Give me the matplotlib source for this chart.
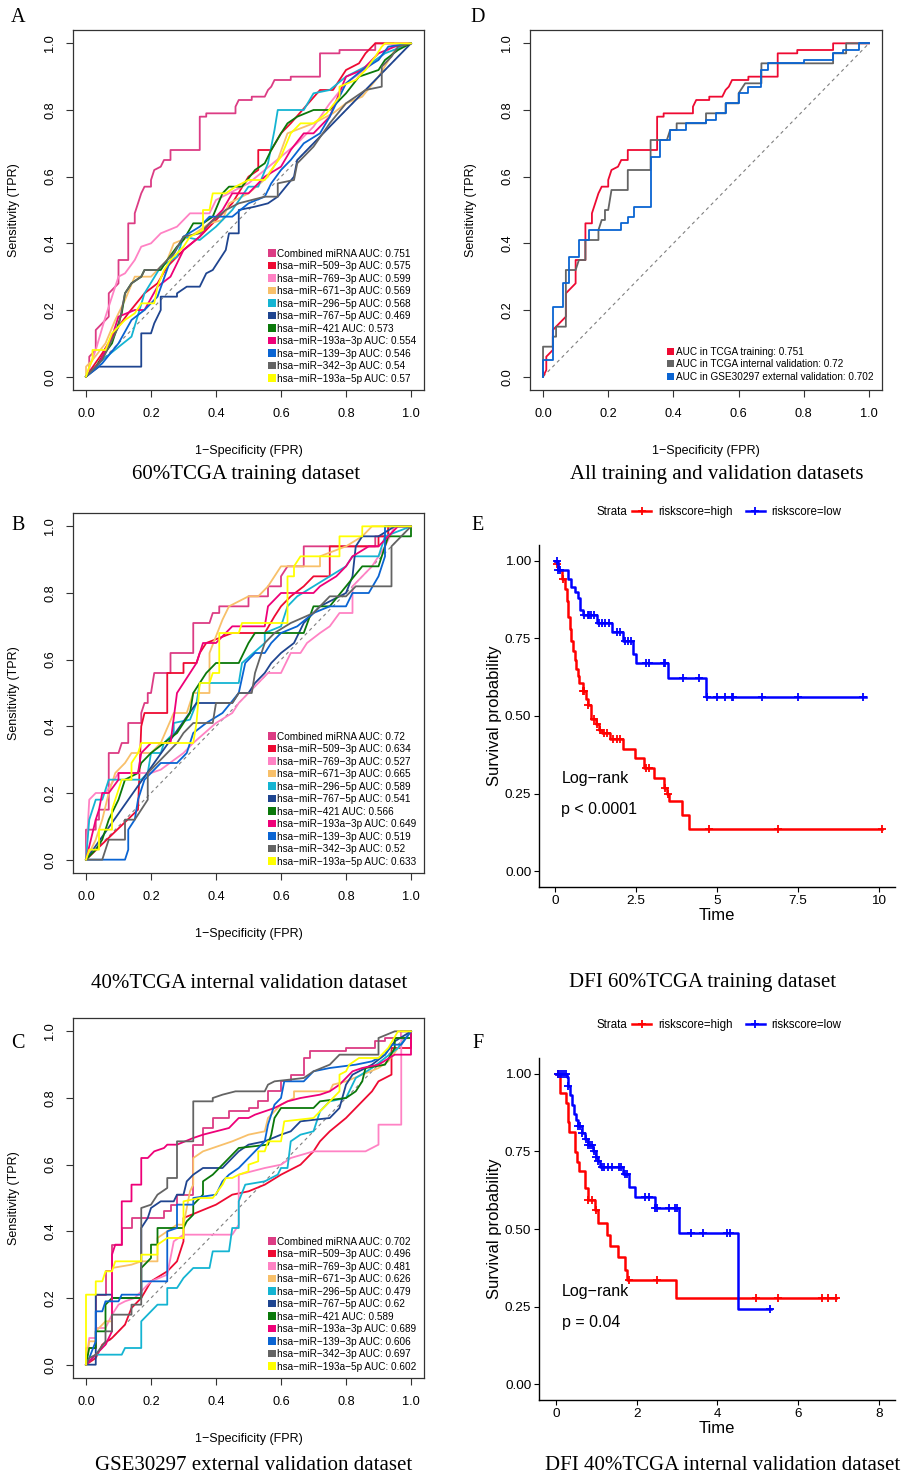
import numpy as np
import matplotlib
matplotlib.use("Agg")
import matplotlib.pyplot as plt
from matplotlib.patches import Patch
from matplotlib.lines import Line2D

M = "\u2212"

# ---------------- ROC data (fpr, tpr vertices) ----------------
roc_colors = ["#DC3C84", "#EE0A32", "#FF82C4", "#F8C06A", "#14B4D2", "#1F4590",
              "#0A780A", "#EE0078", "#0A64D2", "#646464", "#FFFF00"]
mirna_names = ["Combined miRNA", "hsa" + M + "miR" + M + "509" + M + "3p", "hsa" + M + "miR" + M + "769" + M + "3p",
               "hsa" + M + "miR" + M + "671" + M + "3p", "hsa" + M + "miR" + M + "296" + M + "5p",
               "hsa" + M + "miR" + M + "767" + M + "5p", "hsa" + M + "miR" + M + "421",
               "hsa" + M + "miR" + M + "193a" + M + "3p", "hsa" + M + "miR" + M + "139" + M + "3p",
               "hsa" + M + "miR" + M + "342" + M + "3p", "hsa" + M + "miR" + M + "193a" + M + "5p"]
auc_a = ["0.751", "0.575", "0.599", "0.569", "0.568", "0.469", "0.573", "0.554", "0.546", "0.54", "0.57"]
auc_b = ["0.72", "0.634", "0.527", "0.665", "0.589", "0.541", "0.566", "0.649", "0.519", "0.52", "0.633"]
auc_c = ["0.702", "0.496", "0.481", "0.626", "0.479", "0.62", "0.589", "0.689", "0.606", "0.697", "0.602"]

# combined-score curves (also used in panel D)
roc_train = [(0, 0), (0.01, 0.02), (0.01, 0.06), (0.03, 0.08), (0.03, 0.14), (0.05, 0.16), (0.06, 0.17), (0.07, 0.18),
             (0.07, 0.25), (0.09, 0.27), (0.1, 0.28), (0.1, 0.35), (0.13, 0.35), (0.13, 0.46), (0.15, 0.46),
             (0.15, 0.49), (0.16, 0.52), (0.17, 0.55), (0.18, 0.57), (0.2, 0.57), (0.2, 0.59), (0.21, 0.62),
             (0.23, 0.63), (0.24, 0.65), (0.26, 0.65), (0.26, 0.68), (0.35, 0.68), (0.35, 0.78), (0.37, 0.78),
             (0.37, 0.79), (0.46, 0.79), (0.46, 0.81), (0.47, 0.83), (0.51, 0.83), (0.51, 0.84), (0.55, 0.84),
             (0.56, 0.86), (0.57, 0.87), (0.58, 0.89), (0.63, 0.89), (0.63, 0.9), (0.72, 0.9), (0.72, 0.97),
             (0.78, 0.97), (0.78, 0.98), (0.89, 0.98), (0.89, 1.0), (1, 1)]
roc_internal = [(0, 0), (0, 0.09), (0.03, 0.09), (0.03, 0.12), (0.04, 0.12), (0.04, 0.15), (0.07, 0.15), (0.07, 0.32),
                (0.1, 0.32), (0.11, 0.35), (0.13, 0.35), (0.13, 0.41), (0.17, 0.41), (0.17, 0.44), (0.18, 0.47),
                (0.19, 0.47), (0.19, 0.5), (0.2, 0.5), (0.21, 0.56), (0.26, 0.56), (0.26, 0.62), (0.33, 0.62),
                (0.33, 0.71), (0.38, 0.71), (0.39, 0.74), (0.41, 0.74), (0.41, 0.76), (0.5, 0.76), (0.5, 0.79),
                (0.56, 0.79), (0.56, 0.82), (0.6, 0.82), (0.6, 0.85), (0.62, 0.88), (0.67, 0.88), (0.67, 0.94),
                (0.89, 0.94), (0.89, 0.97), (0.93, 0.97), (0.93, 1.0), (1, 1)]
roc_external = [(0, 0), (0, 0.05), (0.03, 0.05), (0.03, 0.21), (0.06, 0.21), (0.06, 0.28), (0.08, 0.28), (0.08, 0.36),
                (0.11, 0.36), (0.11, 0.41), (0.14, 0.41), (0.14, 0.44), (0.24, 0.44), (0.24, 0.46), (0.26, 0.46),
                (0.26, 0.48), (0.28, 0.48), (0.28, 0.51), (0.33, 0.51), (0.33, 0.66), (0.36, 0.66), (0.36, 0.71),
                (0.39, 0.71), (0.39, 0.74), (0.44, 0.74), (0.44, 0.76), (0.5, 0.76), (0.5, 0.77), (0.53, 0.77),
                (0.53, 0.79), (0.56, 0.79), (0.56, 0.82), (0.6, 0.82), (0.6, 0.85), (0.63, 0.85), (0.63, 0.87),
                (0.67, 0.87), (0.67, 0.92), (0.69, 0.92), (0.69, 0.94), (0.8, 0.94), (0.8, 0.95), (0.89, 0.95),
                (0.89, 0.97), (0.92, 0.97), (0.92, 0.98), (0.97, 0.98), (0.97, 1.0), (1, 1)]

# panel A single miRNAs
a_509 = [(0, 0), (0.05, 0.07), (0.1, 0.15), (0.13, 0.19), (0.18, 0.25), (0.22, 0.28), (0.25, 0.33), (0.3, 0.38),
         (0.35, 0.42), (0.4, 0.47), (0.45, 0.52), (0.5, 0.6), (0.53, 0.62), (0.53, 0.68), (0.57, 0.68), (0.6, 0.73),
         (0.63, 0.76), (0.72, 0.86), (0.76, 0.86), (0.8, 0.92), (0.84, 0.94), (0.86, 0.97), (0.89, 1.0), (1, 1)]
a_769 = [(0, 0), (0.03, 0.08), (0.06, 0.18), (0.1, 0.3), (0.12, 0.31), (0.15, 0.35), (0.17, 0.39), (0.2, 0.4),
         (0.23, 0.43), (0.28, 0.45), (0.32, 0.49), (0.38, 0.49), (0.4, 0.53), (0.44, 0.55), (0.5, 0.58),
         (0.55, 0.62), (0.6, 0.66), (0.65, 0.7), (0.7, 0.75), (0.75, 0.82), (0.8, 0.88), (0.87, 0.93),
         (0.93, 0.98), (0.95, 1.0), (1, 1)]
a_671 = [(0, 0), (0, 0.03), (0.02, 0.05), (0.06, 0.1), (0.09, 0.17), (0.12, 0.23), (0.15, 0.3), (0.2, 0.3),
         (0.25, 0.35), (0.27, 0.4), (0.32, 0.42), (0.38, 0.46), (0.42, 0.47), (0.44, 0.52), (0.5, 0.55),
         (0.56, 0.6), (0.59, 0.65), (0.62, 0.73), (0.7, 0.76), (0.76, 0.79), (0.8, 0.82), (0.85, 0.84),
         (0.9, 0.9), (0.95, 0.98), (1, 1)]
a_296 = [(0, 0), (0.05, 0.05), (0.14, 0.12), (0.18, 0.25), (0.23, 0.33), (0.28, 0.36), (0.3, 0.42), (0.35, 0.41),
         (0.4, 0.45), (0.42, 0.47), (0.45, 0.5), (0.5, 0.57), (0.53, 0.57), (0.56, 0.64), (0.58, 0.74),
         (0.59, 0.8), (0.67, 0.8), (0.7, 0.85), (0.75, 0.86), (0.8, 0.9), (0.86, 0.93), (0.92, 0.97), (1, 1)]
a_767 = [(0, 0), (0.04, 0.03), (0.17, 0.03), (0.17, 0.13), (0.2, 0.13), (0.21, 0.16), (0.23, 0.2), (0.23, 0.24),
         (0.28, 0.24), (0.28, 0.25), (0.31, 0.27), (0.35, 0.27), (0.37, 0.31), (0.39, 0.32), (0.41, 0.35),
         (0.43, 0.38), (0.44, 0.43), (0.47, 0.43), (0.47, 0.5), (0.52, 0.51), (0.56, 0.52), (0.59, 0.54),
         (0.64, 0.6), (0.65, 0.65), (1, 1)]
a_421 = [(0, 0), (0.03, 0.03), (0.05, 0.06), (0.08, 0.1), (0.11, 0.19), (0.12, 0.25), (0.14, 0.28), (0.17, 0.3),
         (0.18, 0.32), (0.23, 0.32), (0.25, 0.35), (0.28, 0.39), (0.3, 0.41), (0.33, 0.46), (0.36, 0.46),
         (0.39, 0.48), (0.42, 0.55), (0.44, 0.57), (0.48, 0.57), (0.52, 0.62), (0.55, 0.64), (0.57, 0.68),
         (0.6, 0.73), (0.62, 0.76), (0.65, 0.78), (0.7, 0.8), (0.75, 0.8), (0.8, 0.85), (0.84, 0.9), (0.9, 0.92),
         (0.92, 0.95), (0.96, 0.98), (1, 1)]
a_193a3 = [(0, 0), (0.04, 0.04), (0.08, 0.12), (0.1, 0.18), (0.15, 0.2), (0.18, 0.2), (0.22, 0.27), (0.26, 0.3),
           (0.3, 0.38), (0.35, 0.42), (0.38, 0.46), (0.42, 0.5), (0.45, 0.55), (0.5, 0.55), (0.55, 0.6),
           (0.6, 0.63), (0.63, 0.68), (0.67, 0.73), (0.7, 0.73), (0.75, 0.78), (0.8, 0.9), (0.85, 0.92),
           (0.9, 0.97), (0.95, 0.99), (1, 1)]
a_139 = [(0, 0), (0.05, 0.04), (0.1, 0.1), (0.14, 0.17), (0.18, 0.2), (0.22, 0.24), (0.26, 0.35), (0.3, 0.42),
         (0.35, 0.45), (0.38, 0.48), (0.45, 0.48), (0.5, 0.52), (0.55, 0.54), (0.57, 0.58), (0.6, 0.62),
         (0.63, 0.65), (0.67, 0.7), (0.72, 0.73), (0.75, 0.78), (0.8, 0.88), (0.85, 0.92), (0.9, 0.95),
         (0.93, 0.99), (1, 1)]
a_342 = [(0, 0), (0.05, 0.05), (0.1, 0.15), (0.12, 0.25), (0.14, 0.28), (0.17, 0.3), (0.18, 0.32), (0.22, 0.32),
         (0.27, 0.37), (0.3, 0.42), (0.35, 0.43), (0.38, 0.46), (0.43, 0.5), (0.47, 0.52), (0.51, 0.53),
         (0.55, 0.54), (0.59, 0.54), (0.59, 0.58), (0.64, 0.59), (0.65, 0.64), (0.7, 0.69), (0.75, 0.76),
         (0.8, 0.82), (0.86, 0.86), (0.91, 0.87), (0.91, 0.93), (0.94, 0.96), (0.96, 0.99), (1, 1)]
a_193a5 = [(0, 0), (0.01, 0.03), (0.02, 0.05), (0.02, 0.08), (0.06, 0.08), (0.08, 0.13), (0.12, 0.17), (0.15, 0.19),
           (0.17, 0.22), (0.21, 0.22), (0.22, 0.27), (0.24, 0.32), (0.26, 0.35), (0.3, 0.39), (0.32, 0.42),
           (0.36, 0.44), (0.36, 0.5), (0.38, 0.5), (0.39, 0.55), (0.43, 0.55), (0.46, 0.57), (0.5, 0.59),
           (0.55, 0.59), (0.57, 0.62), (0.6, 0.66), (0.63, 0.73), (0.66, 0.76), (0.7, 0.76), (0.74, 0.79),
           (0.78, 0.84), (0.78, 0.87), (0.83, 0.89), (0.86, 0.92), (0.89, 0.96), (0.91, 0.99), (0.92, 1), (1, 1)]

# panel B single miRNAs
b_509 = [(0, 0), (0.16, 0.15), (0.17, 0.4), (0.18, 0.44), (0.25, 0.44), (0.25, 0.56), (0.3, 0.56), (0.3, 0.59),
         (0.34, 0.59), (0.35, 0.62), (0.37, 0.65), (0.45, 0.68), (0.55, 0.68), (0.58, 0.73), (0.6, 0.76),
         (0.63, 0.79), (0.67, 0.82), (0.7, 0.85), (0.75, 0.85), (0.75, 0.94), (0.9, 0.94), (0.9, 0.97),
         (0.93, 0.97), (0.93, 1), (1, 1)]
b_769 = [(0, 0), (0.01, 0.18), (0.03, 0.2), (0.06, 0.2), (0.08, 0.23), (0.1, 0.26), (0.2, 0.26), (0.23, 0.27),
         (0.3, 0.32), (0.33, 0.35), (0.4, 0.41), (0.45, 0.44), (0.47, 0.47), (0.5, 0.5), (0.53, 0.53),
         (0.56, 0.56), (0.6, 0.56), (0.63, 0.62), (0.66, 0.62), (0.68, 0.65), (0.72, 0.68), (0.75, 0.7),
         (0.78, 0.74), (0.82, 0.74), (0.82, 0.82), (0.85, 0.85), (0.88, 0.88), (0.92, 0.94), (0.95, 1.0), (1, 1)]
b_671 = [(0, 0), (0.03, 0.06), (0.05, 0.12), (0.07, 0.2), (0.09, 0.26), (0.12, 0.29), (0.14, 0.32), (0.2, 0.32),
         (0.23, 0.35), (0.27, 0.44), (0.31, 0.44), (0.33, 0.5), (0.38, 0.5), (0.38, 0.62), (0.4, 0.67),
         (0.42, 0.72), (0.44, 0.76), (0.5, 0.79), (0.53, 0.79), (0.56, 0.82), (0.58, 0.85), (0.6, 0.88),
         (0.72, 0.88), (0.72, 0.91), (0.8, 0.94), (0.85, 0.97), (0.88, 1.0), (1, 1)]
b_296 = [(0, 0), (0.01, 0.12), (0.03, 0.18), (0.05, 0.18), (0.07, 0.24), (0.17, 0.24), (0.19, 0.26), (0.2, 0.32),
         (0.23, 0.32), (0.24, 0.35), (0.27, 0.38), (0.27, 0.41), (0.32, 0.42), (0.34, 0.47), (0.35, 0.53),
         (0.47, 0.53), (0.48, 0.59), (0.55, 0.65), (0.55, 0.68), (0.6, 0.7), (0.62, 0.76), (0.65, 0.79),
         (0.7, 0.82), (0.75, 0.85), (0.8, 0.88), (0.82, 0.91), (0.9, 0.91), (0.92, 0.97), (1, 1)]
b_767 = [(0, 0), (0.34, 0.47), (0.45, 0.47), (0.47, 0.5), (0.5, 0.5), (0.52, 0.53), (0.55, 0.56), (0.57, 0.59),
         (0.6, 0.62), (0.64, 0.65), (0.67, 0.71), (0.7, 0.74), (0.72, 0.76), (0.8, 0.8), (0.82, 0.85),
         (0.83, 0.94), (0.85, 0.97), (0.9, 0.97), (0.95, 1.0), (1, 1)]
b_421 = [(0, 0), (0.03, 0.03), (0.05, 0.06), (0.07, 0.12), (0.1, 0.18), (0.12, 0.24), (0.16, 0.26), (0.17, 0.29),
         (0.2, 0.32), (0.24, 0.35), (0.28, 0.38), (0.3, 0.41), (0.32, 0.44), (0.33, 0.5), (0.37, 0.56),
         (0.4, 0.59), (0.47, 0.59), (0.5, 0.65), (0.52, 0.68), (0.67, 0.68), (0.7, 0.76), (0.75, 0.76),
         (0.8, 0.82), (0.85, 0.88), (0.9, 0.88), (0.93, 0.97), (1, 0.97), (1, 1)]
b_193a3 = [(0, 0), (0.03, 0.12), (0.04, 0.15), (0.05, 0.2), (0.07, 0.2), (0.1, 0.24), (0.1, 0.26), (0.16, 0.26),
           (0.17, 0.32), (0.2, 0.35), (0.26, 0.35), (0.28, 0.5), (0.3, 0.53), (0.32, 0.56), (0.34, 0.59),
           (0.36, 0.65), (0.4, 0.65), (0.45, 0.7), (0.55, 0.7), (0.56, 0.76), (0.6, 0.8), (0.7, 0.8),
           (0.72, 0.82), (0.77, 0.85), (0.8, 0.88), (0.82, 0.91), (0.87, 0.94), (0.9, 0.94), (0.93, 0.97),
           (0.96, 1), (1, 1)]
b_139 = [(0, 0), (0.12, 0), (0.13, 0.03), (0.13, 0.09), (0.15, 0.12), (0.16, 0.18), (0.18, 0.24), (0.2, 0.26),
         (0.23, 0.29), (0.28, 0.29), (0.31, 0.32), (0.33, 0.38), (0.37, 0.41), (0.42, 0.44), (0.47, 0.5),
         (0.49, 0.59), (0.52, 0.62), (0.55, 0.62), (0.57, 0.65), (0.6, 0.68), (0.65, 0.7), (0.7, 0.74),
         (0.75, 0.76), (0.8, 0.76), (0.82, 0.8), (0.87, 0.8), (0.9, 0.85), (0.92, 0.91), (0.92, 1), (1, 1)]
b_342 = [(0, 0), (0.05, 0), (0.07, 0.06), (0.12, 0.06), (0.12, 0.12), (0.15, 0.12), (0.17, 0.15), (0.19, 0.18),
         (0.19, 0.26), (0.22, 0.29), (0.25, 0.32), (0.28, 0.35), (0.3, 0.38), (0.33, 0.41), (0.39, 0.41),
         (0.4, 0.47), (0.45, 0.47), (0.47, 0.5), (0.51, 0.5), (0.52, 0.56), (0.53, 0.59), (0.55, 0.65),
         (0.58, 0.68), (0.63, 0.71), (0.7, 0.74), (0.75, 0.79), (0.8, 0.79), (0.83, 0.82), (0.94, 0.82),
         (0.94, 0.94), (0.97, 0.97), (1, 1)]
b_193a5 = [(0, 0), (0.01, 0.03), (0.04, 0.03), (0.04, 0.09), (0.08, 0.09), (0.08, 0.15), (0.09, 0.18), (0.1, 0.21),
           (0.11, 0.24), (0.14, 0.24), (0.14, 0.29), (0.16, 0.32), (0.17, 0.35), (0.33, 0.35), (0.34, 0.41),
           (0.35, 0.53), (0.38, 0.53), (0.39, 0.56), (0.41, 0.56), (0.41, 0.68), (0.47, 0.68), (0.48, 0.71),
           (0.62, 0.71), (0.62, 0.85), (0.64, 0.85), (0.64, 0.88), (0.66, 0.91), (0.78, 0.91), (0.78, 0.97),
           (0.85, 0.97), (0.85, 1.0), (1, 1)]

# panel C single miRNAs
c_509 = [(0, 0), (0.03, 0.02), (0.05, 0.06), (0.08, 0.08), (0.1, 0.1), (0.12, 0.12), (0.14, 0.17), (0.17, 0.2),
         (0.2, 0.25), (0.25, 0.28), (0.28, 0.31), (0.3, 0.37), (0.3, 0.44), (0.35, 0.46), (0.4, 0.48),
         (0.45, 0.51), (0.5, 0.52), (0.55, 0.54), (0.6, 0.57), (0.66, 0.6), (0.7, 0.64), (0.72, 0.67),
         (0.75, 0.7), (0.8, 0.74), (0.85, 0.79), (0.88, 0.82), (0.9, 0.85), (0.94, 0.87), (0.94, 0.95),
         (1, 0.95), (1, 1)]
c_769 = [(0, 0), (0.01, 0.08), (0.03, 0.08), (0.03, 0.11), (0.06, 0.11), (0.08, 0.15), (0.1, 0.18), (0.12, 0.19),
         (0.15, 0.2), (0.18, 0.23), (0.2, 0.25), (0.25, 0.27), (0.27, 0.37), (0.3, 0.39), (0.45, 0.39),
         (0.47, 0.42), (0.47, 0.57), (0.55, 0.59), (0.6, 0.6), (0.63, 0.62), (0.7, 0.64), (0.86, 0.64),
         (0.9, 0.66), (0.9, 0.72), (0.97, 0.72), (0.97, 1.0), (1, 1)]
c_671 = [(0, 0), (0.01, 0.07), (0.03, 0.07), (0.03, 0.1), (0.06, 0.13), (0.08, 0.13), (0.08, 0.29), (0.14, 0.3),
         (0.17, 0.31), (0.22, 0.31), (0.22, 0.38), (0.28, 0.42), (0.3, 0.42), (0.32, 0.52), (0.33, 0.54),
         (0.33, 0.62), (0.36, 0.64), (0.42, 0.66), (0.45, 0.67), (0.5, 0.69), (0.55, 0.7), (0.56, 0.74),
         (0.6, 0.78), (0.64, 0.8), (0.64, 0.82), (0.75, 0.82), (0.76, 0.84), (0.8, 0.85), (0.9, 0.89),
         (0.93, 0.91), (0.96, 0.95), (1, 1)]
c_296 = [(0, 0), (0.03, 0.03), (0.11, 0.03), (0.12, 0.05), (0.17, 0.05), (0.17, 0.13), (0.2, 0.16), (0.22, 0.18),
         (0.25, 0.18), (0.25, 0.23), (0.28, 0.23), (0.3, 0.26), (0.33, 0.29), (0.38, 0.29), (0.39, 0.34),
         (0.44, 0.34), (0.45, 0.41), (0.47, 0.41), (0.47, 0.49), (0.49, 0.54), (0.55, 0.55), (0.59, 0.57),
         (0.6, 0.59), (0.62, 0.59), (0.63, 0.67), (0.66, 0.69), (0.7, 0.7), (0.72, 0.76), (0.75, 0.79),
         (0.8, 0.8), (0.83, 0.86), (0.88, 0.89), (0.92, 0.92), (0.96, 0.95), (1, 1)]
c_767 = [(0, 0), (0.03, 0.0), (0.03, 0.21), (0.08, 0.21), (0.08, 0.2), (0.17, 0.2), (0.17, 0.41), (0.19, 0.44),
         (0.2, 0.47), (0.23, 0.49), (0.27, 0.49), (0.28, 0.51), (0.3, 0.51), (0.31, 0.55), (0.33, 0.57),
         (0.36, 0.59), (0.42, 0.59), (0.45, 0.62), (0.47, 0.64), (0.5, 0.66), (0.55, 0.67), (0.6, 0.69),
         (0.63, 0.7), (0.66, 0.73), (0.75, 0.74), (0.78, 0.77), (0.8, 0.84), (0.82, 0.87), (0.88, 0.9),
         (0.92, 0.93), (0.95, 0.97), (1, 1)]
c_421 = [(0, 0), (0.01, 0.05), (0.03, 0.05), (0.03, 0.1), (0.06, 0.1), (0.06, 0.18), (0.08, 0.2), (0.17, 0.2),
         (0.17, 0.29), (0.2, 0.32), (0.2, 0.36), (0.22, 0.36), (0.22, 0.41), (0.3, 0.41), (0.31, 0.43),
         (0.33, 0.45), (0.33, 0.48), (0.36, 0.51), (0.36, 0.55), (0.39, 0.57), (0.42, 0.6), (0.44, 0.62),
         (0.47, 0.65), (0.56, 0.66), (0.57, 0.69), (0.58, 0.74), (0.6, 0.77), (0.7, 0.77), (0.72, 0.79),
         (0.8, 0.8), (0.83, 0.82), (0.85, 0.85), (0.86, 0.89), (0.92, 0.9), (0.95, 0.95), (0.95, 0.98),
         (1, 0.98), (1, 1)]
c_193a3 = [(0, 0), (0.03, 0.03), (0.06, 0.06), (0.08, 0.1), (0.08, 0.33), (0.09, 0.36), (0.11, 0.36), (0.11, 0.49),
           (0.14, 0.49), (0.14, 0.54), (0.17, 0.54), (0.17, 0.62), (0.19, 0.62), (0.21, 0.64), (0.24, 0.65),
           (0.25, 0.66), (0.28, 0.66), (0.33, 0.68), (0.36, 0.69), (0.4, 0.7), (0.44, 0.71), (0.47, 0.74),
           (0.5, 0.74), (0.52, 0.75), (0.58, 0.77), (0.62, 0.79), (0.66, 0.8), (0.72, 0.81), (0.75, 0.82),
           (0.78, 0.84), (0.8, 0.86), (0.82, 0.88), (0.85, 0.89), (0.9, 0.9), (0.95, 0.93), (1, 0.93), (1, 1)]
c_139 = [(0, 0), (0.01, 0.02), (0.03, 0.07), (0.03, 0.16), (0.05, 0.16), (0.06, 0.19), (0.1, 0.19), (0.11, 0.21),
         (0.17, 0.21), (0.17, 0.25), (0.25, 0.25), (0.25, 0.4), (0.28, 0.41), (0.28, 0.48), (0.33, 0.48),
         (0.33, 0.5), (0.4, 0.51), (0.42, 0.55), (0.44, 0.57), (0.47, 0.59), (0.5, 0.62), (0.55, 0.67),
         (0.56, 0.72), (0.58, 0.78), (0.6, 0.8), (0.61, 0.85), (0.67, 0.85), (0.7, 0.88), (0.75, 0.89),
         (0.83, 0.9), (0.88, 0.91), (0.92, 0.93), (0.94, 0.96), (0.97, 0.96), (1, 1)]
c_342 = [(0, 0), (0.01, 0.02), (0.03, 0.03), (0.06, 0.07), (0.06, 0.1), (0.08, 0.1), (0.08, 0.15), (0.14, 0.15),
         (0.14, 0.18), (0.17, 0.18), (0.17, 0.47), (0.2, 0.48), (0.22, 0.51), (0.25, 0.53), (0.25, 0.56),
         (0.28, 0.56), (0.28, 0.67), (0.33, 0.67), (0.33, 0.79), (0.39, 0.79), (0.39, 0.8), (0.42, 0.81),
         (0.46, 0.82), (0.55, 0.82), (0.56, 0.84), (0.58, 0.85), (0.67, 0.86), (0.7, 0.88), (0.75, 0.9),
         (0.78, 0.93), (0.9, 0.93), (0.9, 0.98), (0.95, 1.0), (1, 1)]
c_193a5 = [(0, 0), (0, 0.21), (0.03, 0.21), (0.03, 0.25), (0.05, 0.25), (0.06, 0.28), (0.08, 0.28), (0.09, 0.31),
           (0.17, 0.31), (0.17, 0.33), (0.22, 0.33), (0.22, 0.36), (0.25, 0.38), (0.3, 0.38), (0.3, 0.49),
           (0.35, 0.5), (0.39, 0.5), (0.42, 0.54), (0.43, 0.56), (0.45, 0.56), (0.47, 0.57), (0.5, 0.58),
           (0.5, 0.6), (0.53, 0.61), (0.53, 0.64), (0.55, 0.64), (0.56, 0.67), (0.6, 0.67), (0.61, 0.73),
           (0.7, 0.74), (0.72, 0.76), (0.75, 0.79), (0.78, 0.82), (0.78, 0.87), (0.8, 0.88), (0.81, 0.9),
           (0.84, 0.92), (0.9, 0.92), (0.93, 0.95), (0.96, 1.0), (1, 1)]

d_labels = ["AUC in TCGA training: 0.751", "AUC in TCGA internal validation: 0.72",
            "AUC in GSE30297 external validation: 0.702"]
d_colors = ["#EE0A32", "#646464", "#0A64D2"]

# ---------------- Kaplan-Meier data ----------------
e_high_time = [0, 0.05, 0.1, 0.2, 0.3, 0.35, 0.4, 0.45, 0.5, 0.55, 0.6, 0.65, 0.7, 0.75, 0.85, 0.95, 1.0, 1.1,
               1.25, 1.35, 1.45, 1.7, 2.09, 2.47, 2.73, 3.04, 3.37, 3.45, 3.53, 3.92, 4.14]
e_high_surv = [1.0, 0.99, 0.97, 0.94, 0.91, 0.87, 0.82, 0.78, 0.74, 0.71, 0.68, 0.65, 0.63, 0.605, 0.58, 0.555,
               0.535, 0.49, 0.475, 0.455, 0.445, 0.425, 0.393, 0.364, 0.334, 0.30, 0.27, 0.25, 0.227, 0.18, 0.137]
e_high_end = 10.1
e_high_cens = [0.05, 0.25, 0.85, 0.9, 1.0, 1.2, 1.3, 1.4, 1.5, 1.6, 1.8, 1.9, 2.0, 2.8, 2.9, 3.4, 3.5, 4.75, 6.9, 10.1]
e_low_time = [0, 0.1, 0.39, 0.5, 0.6, 0.7, 0.78, 0.85, 1.28, 1.75, 2.1, 2.4, 2.5, 3.5, 4.65]
e_low_surv = [1.0, 0.97, 0.94, 0.915, 0.9, 0.88, 0.84, 0.824, 0.80, 0.77, 0.74, 0.70, 0.67, 0.623, 0.562]
e_low_end = 9.6
e_low_cens = [0.05, 0.1, 0.15, 0.9, 1.0, 1.05, 1.1, 1.2, 1.35, 1.45, 1.55, 1.65, 1.9, 2.0, 2.15, 2.25, 2.35, 2.8,
              2.9, 3.35, 3.4, 3.95, 4.45, 4.7, 5.0, 5.25, 5.45, 5.5, 6.4, 7.5, 9.5]

f_high_time = [0, 0.09, 0.25, 0.29, 0.33, 0.48, 0.52, 0.58, 0.72, 0.8, 0.97, 1.03, 1.27, 1.33, 1.53, 1.72, 1.77, 2.97]
f_high_surv = [1.0, 0.936, 0.904, 0.845, 0.813, 0.749, 0.717, 0.688, 0.631, 0.594, 0.561, 0.519, 0.481, 0.444,
               0.41, 0.369, 0.337, 0.278]
f_high_end = 6.93
f_high_cens = [0.05, 0.8, 0.9, 1.0, 1.8, 2.5, 4.95, 5.5, 6.6, 6.75, 6.93]
f_low_time = [0, 0.27, 0.3, 0.35, 0.4, 0.45, 0.5, 0.55, 0.65, 0.72, 0.8, 0.92, 1.0, 1.05, 1.1, 1.65, 1.8, 1.95,
              2.45, 3.05, 4.5]
f_low_surv = [1.0, 0.99, 0.96, 0.93, 0.90, 0.87, 0.85, 0.83, 0.81, 0.79, 0.77, 0.75, 0.73, 0.72, 0.70, 0.676,
              0.636, 0.604, 0.569, 0.487, 0.243]
f_low_end = 5.33
f_low_cens = [0.05, 0.1, 0.15, 0.2, 0.25, 0.3, 0.55, 0.6, 0.65, 0.75, 0.8, 0.85, 0.9, 0.95, 1.0, 1.05, 1.15, 1.2,
              1.3, 1.4, 1.55, 1.6, 1.7, 1.75, 2.2, 2.3, 2.45, 2.5, 2.8, 2.95, 3.0, 3.35, 3.65, 4.25, 4.3, 5.3]

# ---------------- drawing ----------------
W, H = 921, 1476
SANS = ["Liberation Sans", "DejaVu Sans"]
SERIF = ["Liberation Serif", "DejaVu Serif"]
plt.rcParams["font.family"] = SANS

fig = plt.figure(figsize=(W / 100, H / 100), dpi=100)


def rect(x0, y0, x1, y1):
    # pixel box (top-left origin) -> figure fraction
    return [x0 / W, 1 - y1 / H, (x1 - x0) / W, (y1 - y0) / H]


def fig_text(x, y, s, size):
    fig.text(x / W, 1 - y / H, s, fontsize=size, family=SERIF, ha="center", va="center")


def roc_panel(box, curves, colors, labels, leg_pos):
    ax = fig.add_axes(rect(*box))
    ax.plot([0, 1], [0, 1], color="#7f7f7f", lw=0.8, ls=(0, (3, 3)))
    for pts, col in zip(curves, colors):
        xs, ys = zip(*pts)
        ax.plot(xs, ys, color=col, lw=1.3)
    ax.set_xlim(-0.04, 1.04)
    ax.set_ylim(-0.04, 1.04)
    ticks = np.arange(0, 1.01, 0.2)
    ax.set_xticks(ticks)
    ax.set_yticks(ticks)
    ax.set_xticklabels(["%.1f" % t for t in ticks])
    ax.set_yticklabels(["%.1f" % t for t in ticks], rotation=90, va="center")
    ax.tick_params(direction="out", length=5, width=0.8, labelsize=9.2, color="#333333")
    ax.tick_params(axis="x", pad=8)
    ax.tick_params(axis="y", pad=7)
    for sp in ax.spines.values():
        sp.set_linewidth(0.9)
        sp.set_color("#333333")
    ax.set_xlabel("1" + M + "Specificity (FPR)", fontsize=9)
    ax.set_ylabel("Sensitivity (TPR)", fontsize=9)
    ax.xaxis.set_label_coords(0.5, -0.153)
    ax.yaxis.set_label_coords(-0.15, 0.5)
    handles = [Patch(facecolor=c, edgecolor="none") for c in colors]
    ax.legend(handles, labels, loc="upper left", bbox_to_anchor=leg_pos, frameon=False, fontsize=7.2,
              handlelength=0.75, handleheight=0.75, handletextpad=0.15, labelspacing=0.25, borderpad=0,
              borderaxespad=0)
    return ax


def step_value(times, surv, t):
    i = np.searchsorted(times, t, side="right") - 1
    return np.asarray(surv)[i]


def km_panel(box, groups, xlim, xticks, xticklabels, text_x, ptext):
    ax = fig.add_axes(rect(*box))
    for times, surv, end, cens, col in groups:
        ts = list(times) + [end]
        ss = list(surv) + [surv[-1]]
        ax.step(ts, ss, where="post", color=col, lw=1.8)
        ax.plot(cens, step_value(times, surv, cens), ls="none", marker="+", ms=6, mew=1.3, color=col)
    ax.set_xlim(*xlim)
    ax.set_ylim(-0.05, 1.05)
    ax.set_xticks(xticks)
    ax.set_xticklabels(xticklabels)
    ax.set_yticks([0, 0.25, 0.5, 0.75, 1.0])
    ax.set_yticklabels(["0.00", "0.25", "0.50", "0.75", "1.00"])
    ax.spines["top"].set_visible(False)
    ax.spines["right"].set_visible(False)
    for sp in ("left", "bottom"):
        ax.spines[sp].set_linewidth(1.0)
    ax.tick_params(direction="out", length=3.5, width=0.8, labelsize=9.7, pad=2, colors="black")
    ax.set_xlabel("Time", fontsize=12, labelpad=1)
    ax.set_ylabel("Survival probability", fontsize=12, labelpad=2)
    ax.text(text_x, 0.298, "Log" + M + "rank", fontsize=11.5, ha="left", va="center")
    ax.text(text_x, 0.199, ptext, fontsize=11.5, ha="left", va="center")
    handles = [Line2D([], [], color="red", lw=1.8, marker="+", ms=6, mew=1.3),
               Line2D([], [], color="blue", lw=1.8, marker="+", ms=6, mew=1.3)]
    ax.legend(handles, ["riskscore=high", "riskscore=low"], loc="center", bbox_to_anchor=(0.556, 1.096),
              ncol=2, frameon=False, fontsize=8.3, handlelength=1.6, handletextpad=0.6, columnspacing=1.2)
    ax.text(0.205, 1.096, "Strata", transform=ax.transAxes, fontsize=8.3, ha="center", va="center")
    return ax


panel_a = [roc_train, a_509, a_769, a_671, a_296, a_767, a_421, a_193a3, a_139, a_342, a_193a5]
panel_b = [roc_internal, b_509, b_769, b_671, b_296, b_767, b_421, b_193a3, b_139, b_342, b_193a5]
panel_c = [roc_external, c_509, c_769, c_671, c_296, c_767, c_421, c_193a3, c_139, c_342, c_193a5]

roc_panel((73, 30, 424, 390), panel_a, roc_colors,
          [n + " AUC: " + v for n, v in zip(mirna_names, auc_a)], (0.556, 0.393))
roc_panel((73, 513, 424, 873), panel_b, roc_colors,
          [n + " AUC: " + v for n, v in zip(mirna_names, auc_b)], (0.556, 0.393))
roc_panel((73, 1018, 424, 1378), panel_c, roc_colors,
          [n + " AUC: " + v for n, v in zip(mirna_names, auc_c)], (0.556, 0.393))
roc_panel((530, 30, 882, 390), [roc_train, roc_internal, roc_external], d_colors, d_labels, (0.389, 0.12))

km_panel((539, 545, 895, 887),
         [(e_high_time, e_high_surv, e_high_end, e_high_cens, "red"),
          (e_low_time, e_low_surv, e_low_end, e_low_cens, "blue")],
         (-0.5, 10.5), [0, 2.5, 5, 7.5, 10], ["0", "2.5", "5", "7.5", "10"], 0.19, "p < 0.0001")
km_panel((539, 1058, 895, 1400),
         [(f_high_time, f_high_surv, f_high_end, f_high_cens, "red"),
          (f_low_time, f_low_surv, f_low_end, f_low_cens, "blue")],
         (-0.42, 8.4), [0, 2, 4, 6, 8], ["0", "2", "4", "6", "8"], 0.15, "p = 0.04")

# panel letters and titles
for letter, x, y in [("A", 18, 18), ("D", 478, 18), ("B", 18, 525), ("E", 478, 525), ("C", 18, 1043),
                     ("F", 478, 1043)]:
    fig_text(x, y, letter, 14.5)

fig_text(246, 475, "60%TCGA training dataset", 15)
fig_text(717, 475, "All training and validation datasets", 15)
fig_text(249, 983, "40%TCGA internal validation dataset", 15)
fig_text(703, 983, "DFI 60%TCGA training dataset", 15)
fig_text(254, 1466, "GSE30297 external validation dataset", 15)
fig_text(723, 1466, "DFI 40%TCGA internal validation dataset", 15)

fig.savefig("out.png", dpi=100)
